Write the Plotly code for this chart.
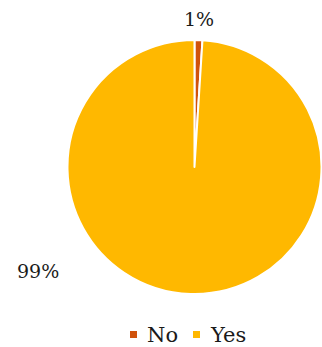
import plotly.graph_objects as go

labels = ["No", "Yes"]
values = [1, 99]
colors = ["#D0520C", "#FFB800"]

total = sum(values)
pct = [f"{round(100 * v / total)}%" for v in values]

W, H = 322, 347
FONT = "DejaVu Serif"


def px(x):
    return x / W


def py(y):
    return 1 - y / H


fig = go.Figure(
    go.Pie(
        labels=labels,
        values=values,
        sort=False,
        direction="clockwise",
        rotation=0,
        marker=dict(colors=colors, line=dict(color="white", width=2)),
        textinfo="none",
        hoverinfo="label+percent",
        domain=dict(x=[0.2096, 0.9984], y=[0.1527, 0.8847]),
    )
)

# Percentage labels placed outside the pie
label_pos = [(199, 19), (38, 271)]
for t, (lx, ly) in zip(pct, label_pos):
    fig.add_annotation(x=px(lx), y=py(ly), xref="paper", yref="paper",
                       text=t, showarrow=False, xanchor="center", yanchor="middle",
                       font=dict(family=FONT, size=19, color="#1a1a1a"))

# Legend row under the pie: small square swatch followed by the label
legend_x = [130, 193]
legend_y = 335
for lab, c, lx in zip(labels, colors, legend_x):
    fig.add_shape(type="rect", xref="paper", yref="paper",
                  x0=px(lx), x1=px(lx + 7), y0=py(legend_y - 4), y1=py(legend_y + 3),
                  fillcolor=c, line=dict(width=0))
    fig.add_annotation(x=px(lx + 15), y=py(legend_y), xref="paper", yref="paper",
                       text=lab, showarrow=False, xanchor="left", yanchor="middle",
                       font=dict(family=FONT, size=21, color="#1a1a1a"))

fig.update_layout(
    width=W,
    height=H,
    margin=dict(l=0, r=0, t=0, b=0),
    paper_bgcolor="white",
    plot_bgcolor="white",
    font=dict(family=FONT, size=19, color="#1a1a1a"),
    showlegend=False,
)

fig.write_html("out.html")
